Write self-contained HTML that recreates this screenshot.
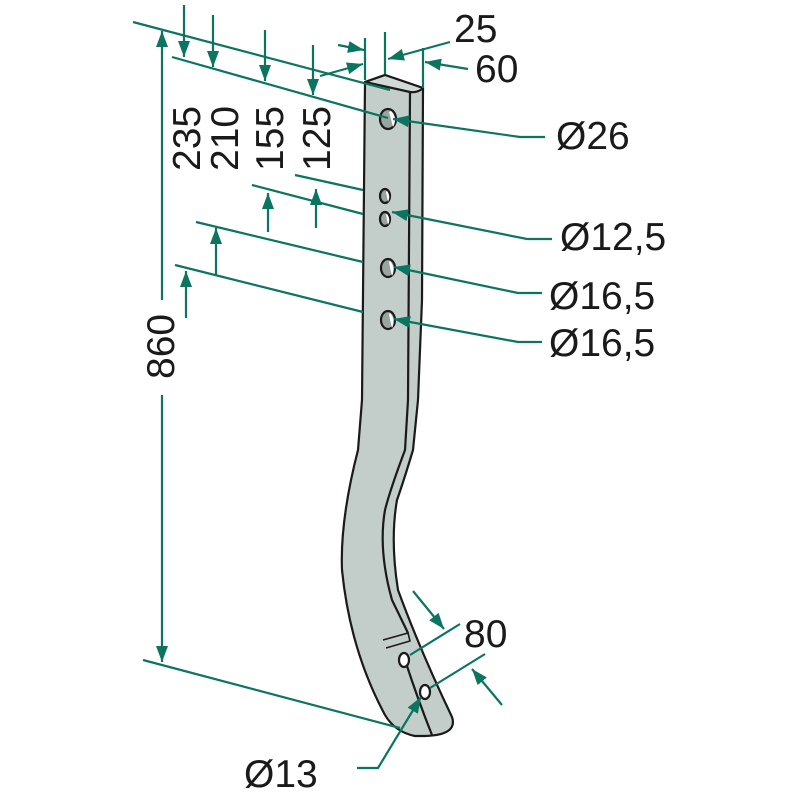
<!DOCTYPE html>
<html><head><meta charset="utf-8"><style>html,body{margin:0;padding:0;background:#fff}svg{display:block}</style></head>
<body>
<svg width="800" height="800" viewBox="0 0 800 800" xmlns="http://www.w3.org/2000/svg">
<defs>
<marker id="a" viewBox="0 0 16 12" refX="16" refY="6" markerWidth="16" markerHeight="12" orient="auto-start-reverse" markerUnits="userSpaceOnUse">
<path d="M0,0 L16,6 L0,12 z" fill="#0b7560"/></marker>
</defs>
<g fill="#c3cdc9" stroke="#1a1a1a" stroke-width="2.2" stroke-linejoin="round">
<path d="M365,82 L385,75 L423,88 L422,300 L418,400 L413,450 Q404,480 397,500 Q390,540 398,590 Q420,650 452,717 Q458,735 425,736 L415,736 Q395,732 385,715 Q350,650 342,570 Q340,520 358,450 L362,400 Z"/>
<path d="M365,82 L385,75 L423,88 Q418,93 410,92 Z" fill="#d2dad7"/>
<path d="M410,92 L408,400 L405,450 Q390,490 385,510 Q378,550 392,600 L408,633" fill="none"/>
<path d="M383,640 L408,633 L410,641 L386,648" fill="none" stroke-width="1.6"/>
<path d="M405,660 Q418,700 432,735" fill="none"/>
<g fill="#98a5a1">
<ellipse cx="388" cy="119" rx="8" ry="10"/>
<ellipse cx="385" cy="196" rx="5" ry="7"/>
<ellipse cx="385" cy="219" rx="5" ry="7"/>
<ellipse cx="388" cy="268" rx="7" ry="9"/>
<ellipse cx="388" cy="320" rx="7" ry="9"/>
</g>
<ellipse cx="404" cy="660" rx="5" ry="7" fill="#fff"/>
<ellipse cx="425" cy="692" rx="5" ry="7" fill="#fff"/>
</g>
<g fill="#fff">
<path d="M391,111 Q398,118 393,127 Q391,119 389,112 Z"/>
<path d="M387,191 Q391,196 388,202 Q387,197 386,192 Z"/>
<path d="M387,214 Q391,219 388,225 Q387,220 386,215 Z"/>
<path d="M390,261 Q396,268 392,276 Q390,268 389,262 Z"/>
<path d="M390,313 Q396,320 392,328 Q390,320 389,314 Z"/>
</g>
<g stroke="#0b7560" stroke-width="2.2" fill="none">
<line x1="133" y1="22" x2="390" y2="90"/>
<line x1="172" y1="57" x2="388" y2="118"/>
<line x1="162" y1="300" x2="162" y2="31" marker-end="url(#a)"/>
<line x1="162" y1="395" x2="162" y2="662" marker-end="url(#a)"/>
<line x1="143" y1="660" x2="400" y2="728"/>
<line x1="184" y1="5" x2="184" y2="57" marker-end="url(#a)"/>
<line x1="213" y1="15" x2="213" y2="67" marker-end="url(#a)"/>
<line x1="265" y1="30" x2="265" y2="81" marker-end="url(#a)"/>
<line x1="313" y1="45" x2="313" y2="95" marker-end="url(#a)"/>
<line x1="295" y1="175" x2="363" y2="190"/>
<line x1="252" y1="185" x2="363" y2="214"/>
<line x1="196" y1="222" x2="363" y2="262"/>
<line x1="175" y1="265" x2="363" y2="312"/>
<line x1="316" y1="228" x2="316" y2="189" marker-end="url(#a)"/>
<line x1="268" y1="232" x2="268" y2="193" marker-end="url(#a)"/>
<line x1="216" y1="275" x2="216" y2="228" marker-end="url(#a)"/>
<line x1="186" y1="318" x2="186" y2="271" marker-end="url(#a)"/>
<line x1="365" y1="38" x2="365" y2="80"/>
<line x1="385" y1="32" x2="385" y2="74"/>
<line x1="423" y1="48" x2="423" y2="88"/>
<line x1="338" y1="45" x2="364" y2="50" marker-end="url(#a)"/>
<line x1="320" y1="76" x2="363" y2="64" marker-end="url(#a)"/>
<line x1="450" y1="42" x2="388" y2="59" marker-end="url(#a)"/>
<line x1="468" y1="69" x2="425" y2="62" marker-end="url(#a)"/>
<polyline points="545,137 520,137 393,119" marker-end="url(#a)"/>
<polyline points="552,239 527,239 392,212" marker-end="url(#a)"/>
<polyline points="542,293 518,293 394,267" marker-end="url(#a)"/>
<polyline points="542,342 518,342 394,319" marker-end="url(#a)"/>
<line x1="410" y1="655" x2="460" y2="624"/>
<line x1="430" y1="688" x2="485" y2="654"/>
<line x1="413" y1="591" x2="444" y2="629" marker-end="url(#a)"/>
<line x1="502" y1="705" x2="472" y2="669" marker-end="url(#a)"/>
<polyline points="357,768 378,768 421,697" marker-end="url(#a)"/>
</g>
<g font-family="Liberation Sans, DejaVu Sans, sans-serif" font-size="39" fill="#1a1a1a">
<text x="454" y="42">25</text>
<text x="475" y="82">60</text>
<text x="556" y="149">Ø26</text>
<text x="560" y="250">Ø12,5</text>
<text x="549" y="309">Ø16,5</text>
<text x="549" y="356">Ø16,5</text>
<text x="464" y="647">80</text>
<text x="244" y="787">Ø13</text>
<text transform="translate(200,171) rotate(-90)">235</text>
<text transform="translate(238,171) rotate(-90)">210</text>
<text transform="translate(283,171) rotate(-90)">155</text>
<text transform="translate(330,171) rotate(-90)">125</text>
<text transform="translate(174,379) rotate(-90)">860</text>
</g>
</svg>
</body></html>
